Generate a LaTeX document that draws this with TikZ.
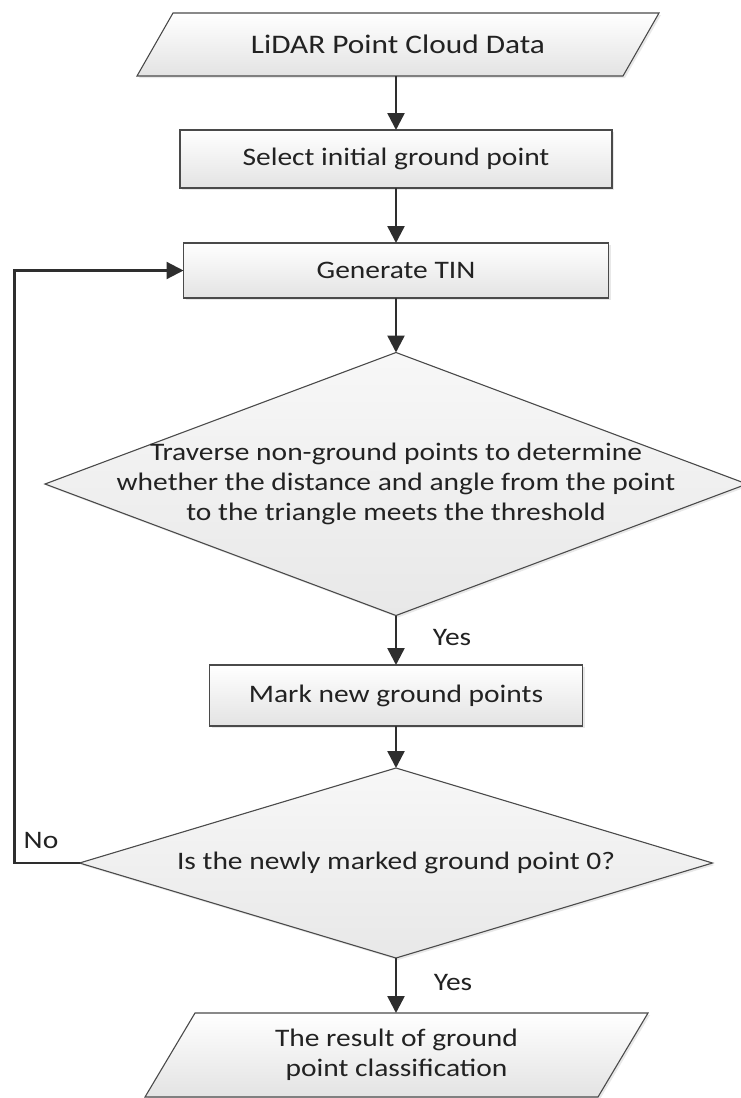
\documentclass[tikz,border=0pt]{standalone}
\usepackage{fontspec}
\setmainfont{Carlito}[FakeStretch=1.17]
\usetikzlibrary{shapes.geometric,arrows.meta,shadows,backgrounds}
\definecolor{edgegray}{HTML}{4A4A4A}
\definecolor{textgray}{HTML}{222222}

\begin{document}
\begin{tikzpicture}[x=1pt,y=-1pt,
  font=\fontsize{25.2}{30}\selectfont, text=textgray,
  shape base/.style={draw=edgegray, line width=1.1pt, top color=white, bottom color=black!11,
    drop shadow={shadow xshift=2pt, shadow yshift=-2pt, opacity=0.18}},
  procbox/.style={shape base, rectangle, outer sep=0pt},
  iotext/.style={rectangle, align=center, outer sep=0pt},
  iobox/.style={shape base},
  decision/.style={shape base, diamond, outer sep=0pt, top color=black!3, bottom color=black!9},
  flow/.style={draw=black!82, line width=2.5pt, -{Triangle[length=17pt,width=17pt]}}]
  \useasboundingbox (0,0) rectangle (741,1098);
  % input / output (text boxes, outline drawn below)
  \node[iotext, minimum width=486pt, minimum height=63pt, font=\fontsize{26.8}{30}\selectfont]
    (lidar) at (398,44.5) {LiDAR Point Cloud Data};
  \node[iotext, minimum width=453pt, minimum height=84pt] (result) at (396.5,1055)
    {The result of ground\\point classification};
  \begin{scope}[on background layer]
    \path[iobox] ([xshift=18pt]lidar.north west) -- ([xshift=18pt]lidar.north east)
      -- ([xshift=-18pt]lidar.south east) -- ([xshift=-18pt]lidar.south west) -- cycle;
    \path[iobox] ([xshift=25pt]result.north west) -- ([xshift=25pt]result.north east)
      -- ([xshift=-25pt]result.south east) -- ([xshift=-25pt]result.south west) -- cycle;
  \end{scope}
  % process steps
  \node[procbox, minimum width=432pt, minimum height=58pt] (select) at (396,159) {Select initial ground point};
  \node[procbox, minimum width=425pt, minimum height=55pt] (tin) at (396,270.5) {Generate TIN};
  \node[procbox, minimum width=373pt, minimum height=61pt] (mark) at (396,695.5) {Mark new ground points};
  % decisions
  \node[decision, minimum width=702pt, minimum height=263pt] (thresh) at (396,484) {};
  \node[align=center] (threshtext) at (thresh.center)
    {Traverse non-ground points to determine\\whether the distance and angle from the point\\to the triangle meets the threshold};
  \node[decision, minimum width=633pt, minimum height=190pt] (zero) at (396,863) {};
  \node (zerotext) at (zero.center) {Is the newly marked ground point 0?};
  % connectors
  \draw[flow] (lidar.south -| select.north) -- (select);
  \draw[flow] (select) -- (tin);
  \draw[flow] (tin) -- (thresh.north);
  \draw[flow] (thresh.south) -- (mark);
  \draw[flow] (mark) -- (zero.north);
  \draw[flow] (zero.south) -- (zero.south |- result.north);
  \draw[flow, line width=2.2pt] (zero.west) -- ++(-65,0) |- (tin.west);
  % branch labels
  \node (yes1) at (452,637) {Yes};
  \node (yes2) at (453,982) {Yes};
  \node (no) at (41,840) {No};
\end{tikzpicture}
\end{document}
